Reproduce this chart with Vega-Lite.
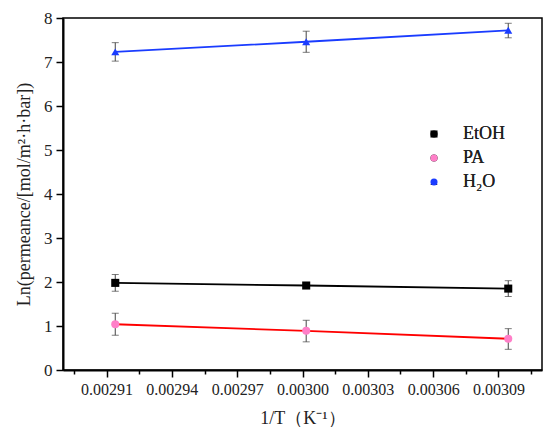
{
  "$schema": "https://vega.github.io/schema/vega-lite/v6.json",
  "width": 479,
  "height": 352,
  "autosize": {"type": "none"},
  "padding": {"left": 63, "top": 18, "right": 8, "bottom": 73},
  "background": "white",
  "config": {
    "view": {"stroke": "black", "strokeWidth": 1.5},
    "font": "Liberation Serif",
    "axis": {
      "labelFont": "Liberation Serif",
      "titleFont": "Liberation Serif",
      "labelColor": "#222",
      "titleColor": "#222",
      "domainColor": "black",
      "domainWidth": 2,
      "tickColor": "black",
      "tickWidth": 1.5,
      "grid": false,
      "titleFontWeight": "normal"
    },
    "legend": {"labelFont": "Liberation Serif"}
  },
  "data": {
    "values": [
      {"series": "EtOH", "invT": 0.002914, "val": 1.98, "lo": 1.79, "hi": 2.17},
      {"series": "EtOH", "invT": 0.0030017, "val": 1.92, "lo": null, "hi": null},
      {"series": "EtOH", "invT": 0.0030945, "val": 1.85, "lo": 1.67, "hi": 2.03},
      {"series": "PA", "invT": 0.002914, "val": 1.04, "lo": 0.79, "hi": 1.29},
      {"series": "PA", "invT": 0.0030017, "val": 0.89, "lo": 0.64, "hi": 1.13},
      {"series": "PA", "invT": 0.0030945, "val": 0.71, "lo": 0.47, "hi": 0.94},
      {"series": "H₂O", "invT": 0.002914, "val": 7.23, "lo": 7.02, "hi": 7.44},
      {"series": "H₂O", "invT": 0.0030017, "val": 7.46, "lo": 7.22, "hi": 7.70},
      {"series": "H₂O", "invT": 0.0030945, "val": 7.72, "lo": 7.55, "hi": 7.88}
    ]
  },
  "encoding": {
    "x": {
      "field": "invT",
      "type": "quantitative",
      "scale": {"domain": [0.00289, 0.00311], "nice": false, "zero": false},
      "axis": {
        "title": "1/T（K⁻¹）",
        "values": [0.002895, 0.00291, 0.002925, 0.00294, 0.002955, 0.00297, 0.002985, 0.003, 0.003015, 0.00303, 0.003045, 0.00306, 0.003075, 0.00309, 0.003105],
        "format": ".5f",
        "labelExpr": "round(datum.value * 1000000) % 30 == 0 ? datum.label : ''",
        "tickSize": {"condition": {"test": "round(datum.value * 1000000) % 30 == 0", "value": 7}, "value": 4},
        "labelFont": "Liberation Serif",
        "titleFont": "Liberation Serif",
        "labelFontSize": 16,
        "labelPadding": 4,
        "titleFontSize": 18,
        "titlePadding": 12
      }
    },
    "y": {
      "field": "val",
      "type": "quantitative",
      "scale": {"domain": [0, 8], "nice": false},
      "axis": {
        "title": "Ln(permeance/[mol/m²·h·bar])",
        "values": [0, 0.5, 1, 1.5, 2, 2.5, 3, 3.5, 4, 4.5, 5, 5.5, 6, 6.5, 7, 7.5, 8],
        "format": "d",
        "labelExpr": "datum.value % 1 == 0 ? datum.label : ''",
        "tickSize": {"condition": {"test": "datum.value % 1 == 0", "value": 7}, "value": 4},
        "labelFont": "Liberation Serif",
        "titleFont": "Liberation Serif",
        "labelFontSize": 17,
        "labelPadding": 4,
        "titleFontSize": 18,
        "titlePadding": 10
      }
    }
  },
  "layer": [
    {
      "mark": {"type": "line", "strokeWidth": 1.8},
      "encoding": {
        "color": {
          "field": "series",
          "type": "nominal",
          "scale": {"domain": ["EtOH", "PA", "H₂O"], "range": ["black", "#ff0000", "#1a3cff"]},
          "legend": null
        },
        "detail": {"field": "series"}
      }
    },
    {
      "transform": [{"filter": "datum.lo != null"}],
      "mark": {"type": "rule", "color": "#444", "strokeWidth": 1},
      "encoding": {
        "y": {"field": "lo", "type": "quantitative", "title": "Ln(permeance/[mol/m²·h·bar])"},
        "y2": {"field": "hi"}
      }
    },
    {
      "transform": [{"filter": "datum.lo != null"}],
      "mark": {"type": "tick", "color": "#444", "size": 7, "thickness": 1, "orient": "horizontal"},
      "encoding": {
        "y": {"field": "lo", "type": "quantitative", "title": "Ln(permeance/[mol/m²·h·bar])"}
      }
    },
    {
      "transform": [{"filter": "datum.lo != null"}],
      "mark": {"type": "tick", "color": "#444", "size": 7, "thickness": 1, "orient": "horizontal"},
      "encoding": {
        "y": {"field": "hi", "type": "quantitative", "title": "Ln(permeance/[mol/m²·h·bar])"}
      }
    },
    {
      "mark": {"type": "point", "filled": true, "size": 65, "opacity": 1},
      "encoding": {
        "color": {
          "field": "series",
          "type": "nominal",
          "scale": {"domain": ["EtOH", "PA", "H₂O"], "range": ["black", "#ff7fc8", "#1a3cff"]},
          "legend": {
            "title": null,
            "orient": "none",
            "legendX": 362,
            "legendY": 107,
            "padding": 0,
            "labelFont": "Liberation Serif",
            "labelFontSize": 18,
            "labelColor": "#222",
            "symbolSize": 50,
            "symbolOpacity": 1,
            "rowPadding": 6,
            "labelOffset": 20
          }
        },
        "shape": {
          "field": "series",
          "type": "nominal",
          "scale": {"domain": ["EtOH", "PA", "H₂O"], "range": ["square", "circle", "triangle-up"]},
          "legend": {
            "title": null,
            "orient": "none",
            "legendX": 362,
            "legendY": 107,
            "padding": 0,
            "labelFont": "Liberation Serif",
            "labelFontSize": 18,
            "labelColor": "#222",
            "symbolSize": 50,
            "symbolOpacity": 1,
            "rowPadding": 6,
            "labelOffset": 20
          }
        }
      }
    }
  ],
  "resolve": {"scale": {"color": "independent"}}
}
